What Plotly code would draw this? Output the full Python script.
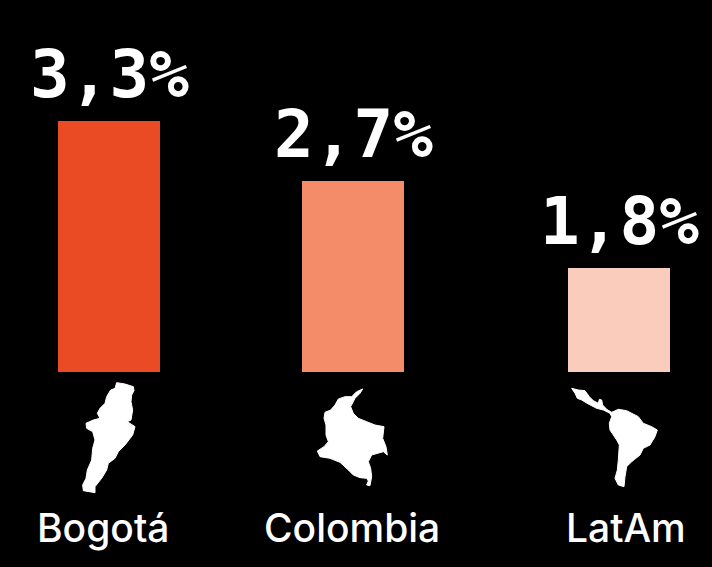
import plotly.graph_objects as go

# Data
categories = ["Bogotá", "Colombia", "LatAm"]
values = [3.3, 2.7, 1.83]
value_labels = ["3,3%", "2,7%", "1,8%"]
bar_colors = ["#EB4B24", "#F48B69", "#FACCBC"]

# Layout constants
W, H = 712, 567
BASE_PX = 372
Y_MIN = 0.79
PX_PER_UNIT = 100
bar_centers = [109, 353, 619]
label_centers = [103, 352, 626]
LABEL_Y_PX = 527
VALUE_LABEL_SHIFT = 6

BOGOTA = ((50, 370), [(200,38),(225,42),(250,50),(252,62),(245,75),(243,95),(248,120),(243,150),(232,155),(255,170),(248,195),(225,225),(205,245),(195,265),(175,280),(170,300),(155,325),(135,350),(135,368),(100,362),(98,345),(108,325),(112,300),(125,270),(128,235),(135,210),(128,185),(110,175),(108,160),(130,150),(150,145),(142,130),(150,115),(165,100),(170,80),(182,60),(195,55)])
COLOMBIA = ((300, 375), [(188,42),(170,50),(155,65),(135,65),(115,72),(105,90),(92,105),(75,112),(72,130),(78,150),(78,180),(85,200),(72,215),(52,228),(60,245),(90,250),(120,262),(145,285),(160,300),(180,308),(200,310),(205,318),(200,330),(210,332),(215,305),(212,280),(205,260),(215,240),(250,230),(262,240),(258,215),(248,190),(252,155),(225,150),(200,140),(175,130),(160,115),(152,95),(165,70),(180,55)])
LATAM = ((560, 380), [(35,25),(55,30),(75,32),(88,50),(100,62),(115,70),(118,58),(125,60),(128,75),(140,88),(155,97),(175,88),(200,92),(235,110),(250,130),(275,140),(292,150),(285,170),(270,195),(250,205),(240,225),(215,245),(200,260),(195,290),(192,320),(175,315),(165,295),(172,270),(175,240),(178,195),(170,180),(150,150),(148,130),(155,110),(150,100),(130,90),(110,85),(85,72),(65,60),(52,55),(45,40)])


def silhouette(shape):
    (ox, oy), pts = shape
    coords = [((ox + x / 3) / W, 1 - (oy + y / 3) / H) for x, y in pts]
    path = "M " + " L ".join(f"{x:.5f} {y:.5f}" for x, y in coords) + " Z"
    return dict(type="path", xref="paper", yref="paper", path=path,
                fillcolor="white", line=dict(color="white", width=1))


fig = go.Figure(go.Bar(
    x=bar_centers, y=values, width=102,
    marker=dict(color=bar_colors, line=dict(width=0)),
    cliponaxis=False,
    hoverinfo="skip",
))

annotations = [
    dict(x=cx, xref="x", y=1 - LABEL_Y_PX / H, yref="paper", text=name,
         showarrow=False, xanchor="center", yanchor="middle",
         font=dict(family="Inter", size=39, color="white", weight=500))
    for cx, name in zip(label_centers, categories)
]
annotations += [
    dict(x=cx, xref="x", y=v, yref="y", text=lab, showarrow=False,
         xanchor="center", yanchor="bottom", yshift=VALUE_LABEL_SHIFT,
         font=dict(family="DejaVu Sans Mono", size=66, color="white", weight="bold"))
    for cx, v, lab in zip(bar_centers, values, value_labels)
]

fig.update_layout(
    width=W, height=H, margin=dict(l=0, r=0, t=0, b=0), autosize=False,
    paper_bgcolor="#000000", plot_bgcolor="#000000", showlegend=False,
    xaxis=dict(range=[0, W], visible=False, domain=[0, 1]),
    yaxis=dict(range=[Y_MIN, Y_MIN + BASE_PX / PX_PER_UNIT], visible=False,
               domain=[1 - BASE_PX / H, 1]),
    shapes=[silhouette(s) for s in (BOGOTA, COLOMBIA, LATAM)],
    annotations=annotations,
)
fig.write_html("out.html", config={"displayModeBar": False},
               post_script="document.body.style.margin='0';document.body.style.background='#000';")
